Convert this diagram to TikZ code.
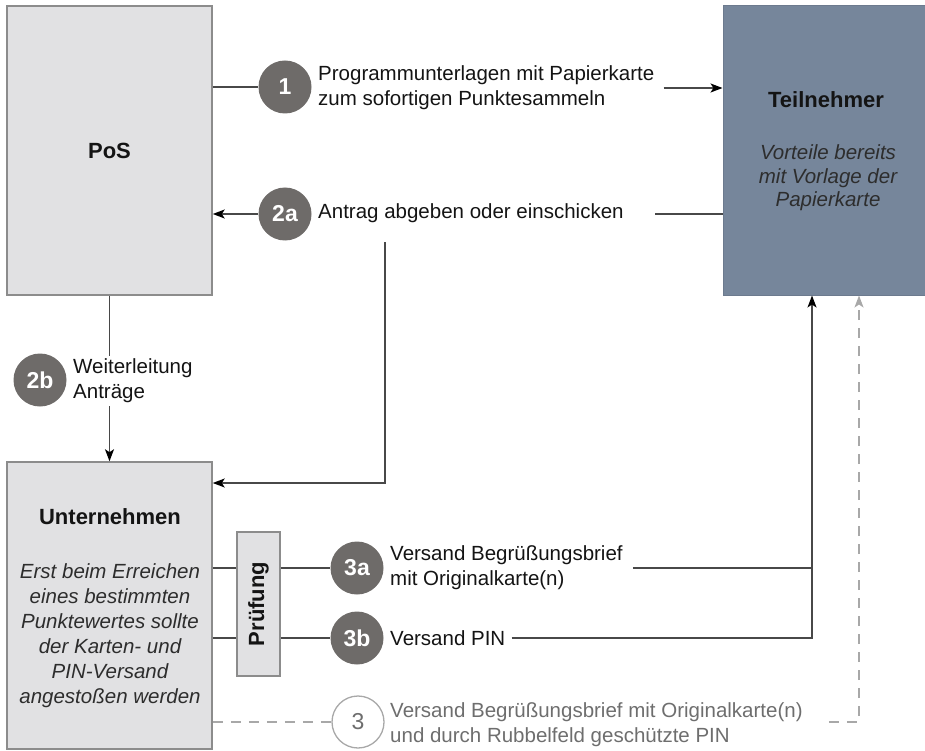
\documentclass[tikz,border=0pt]{standalone}
\usepackage{fontspec}
\setmainfont{Liberation Sans}
\usetikzlibrary{arrows.meta}

\definecolor{boxfill}{RGB}{225,225,227}
\definecolor{boxline}{RGB}{140,140,140}
\definecolor{tnfill}{RGB}{118,134,155}
\definecolor{tnline}{RGB}{108,122,142}
\definecolor{stepfill}{RGB}{110,107,105}
\definecolor{flowline}{RGB}{72,72,72}
\definecolor{optline}{RGB}{168,168,168}
\definecolor{opttext}{RGB}{110,110,110}
\definecolor{maintext}{RGB}{20,20,20}
\definecolor{desctext}{RGB}{45,45,45}

\tikzset{
  box/.style={draw=boxline, line width=1.5pt, fill=boxfill, rectangle, inner sep=0pt},
  tnbox/.style={draw=tnline, line width=1pt, fill=tnfill, rectangle, inner sep=0pt},
  title/.style={font=\fontsize{22}{26}\selectfont\bfseries, text=maintext, inner sep=0pt},
  desc/.style={font=\fontsize{20.5}{25}\selectfont\itshape, text=desctext, align=center, inner sep=0pt},
  lbl/.style={font=\fontsize{20.5}{25}\selectfont, text=maintext, align=left, anchor=west, inner sep=6pt},
  optlbl/.style={lbl, text=opttext},
  stepmark/.style={circle, fill=stepfill, minimum size=53pt, inner sep=0pt,
                   text=white, font=\fontsize{23}{27}\selectfont\bfseries},
  optmark/.style={circle, draw=optline, line width=1.3pt, fill=white, minimum size=52pt,
                  inner sep=0pt, text=opttext, font=\fontsize{23}{27}\selectfont},
  flow/.style={draw=flowline, line width=1.5pt},
  flowarrow/.style={flow, -{Stealth[length=12pt,width=9pt,inset=3pt,color=black]}},
  optflow/.style={draw=optline, line width=1.5pt, dash pattern=on 10pt off 8pt},
  optarrow/.style={optflow, -{Stealth[length=12pt,width=9pt,inset=3pt]}},
}

\begin{document}
\begin{tikzpicture}[x=1pt,y=-1pt]
\useasboundingbox (0,0) rectangle (925,751);

% main parties
\node[box, minimum width=205pt, minimum height=289pt, title] (pos) at (109.5,150.5) {PoS};
\node[tnbox, minimum width=206pt, minimum height=289pt] (tn) at (826,150.5) {};
\node[title] (tn-title) at (826,100) {Teilnehmer};
\node[desc, font=\fontsize{20.5}{23.5}\selectfont\itshape] (tn-desc) at (828,178)
  {Vorteile bereits\\mit Vorlage der\\Papierkarte};

\node[box, minimum width=205pt, minimum height=287pt] (unt) at (109.5,605.5) {};
\node[title] (unt-title) at (110,517) {Unternehmen};
\node[desc] (unt-desc) at (110,635.5)
  {Erst beim Erreichen\\eines bestimmten\\Punktewertes sollte\\der Karten- und\\PIN-Versand\\angestoßen werden};

% check step
\node[box, minimum width=43pt, minimum height=144pt] (pruef) at (258.5,604) {};
\node[title, rotate=90] (pruef-text) at (pruef.center) {Prüfung};

% step markers
\node[stepmark] (c1)  at (285,87)  {1};
\node[stepmark] (c2a) at (285,214) {2a};
\node[stepmark] (c2b) at (40,380)  {2b};
\node[stepmark] (c3a) at (357,568) {3a};
\node[stepmark] (c3b) at (357,638) {3b};
\node[optmark]  (c3)  at (358,722) {3};

% step labels
\node[lbl] (t1)  at (312,88)  {Programmunterlagen mit Papierkarte\\zum sofortigen Punktesammeln};
\node[lbl] (t2a) at (312,213) {Antrag abgeben oder einschicken};
\node[lbl, inner sep=3pt] (t2b) at (70,381) {Weiterleitung\\Anträge};
\node[lbl] (t3a) at (384,568) {Versand Begrüßungsbrief\\mit Originalkarte(n)};
\node[lbl] (t3b) at (384,638) {Versand PIN};
\node[optlbl] (t3) at (384,725) {Versand Begrüßungsbrief mit Originalkarte(n)\\und durch Rubbelfeld geschützte PIN};

% bend points
\coordinate (antragtop)  at (385,242);
\coordinate (antragbend) at (385,483);
\coordinate (pinjoin)    at (812,638);
\coordinate (optbend)    at (859,722);

% 1: PoS -> Teilnehmer
\draw[flow] (pos.east |- c1) -- (c1);
\draw[flowarrow] ([xshift=3pt]t1.east) -- (tn.west |- t1.east);

% 2a: Teilnehmer -> PoS, and on to Unternehmen
\draw[flow] (tn.west |- c2a) -- ([xshift=25pt]t2a.east |- c2a);
\draw[flowarrow] (c2a) -- (pos.east |- c2a);
\draw[flowarrow] (antragtop) -- (antragbend) -- (unt.east |- antragbend);

% 2b: PoS -> Unternehmen
\draw[flow] (pos.south) -- (pos.south |- t2b.north);
\draw[flowarrow] (pos.south |- t2b.south) -- (unt.north);

% 3a / 3b: Unternehmen -> Prüfung -> Teilnehmer
\draw[flow] (unt.east |- c3a) -- (pruef.west |- c3a);
\draw[flow] (pruef.east |- c3a) -- (c3a);
\draw[flow] (unt.east |- c3b) -- (pruef.west |- c3b);
\draw[flow] (pruef.east |- c3b) -- (c3b);
\draw[flow] ([xshift=4pt]t3a.east |- c3a) -- (pinjoin |- c3a);
\draw[flowarrow] (t3b.east) -- (pinjoin) -- (tn.south -| pinjoin);

% 3: optional combined dispatch
\draw[optflow] (unt.east |- c3) -- (c3);
\draw[optarrow] ([xshift=20pt]t3.east |- optbend) -- (optbend) -- (tn.south -| optbend);
\end{tikzpicture}
\end{document}
